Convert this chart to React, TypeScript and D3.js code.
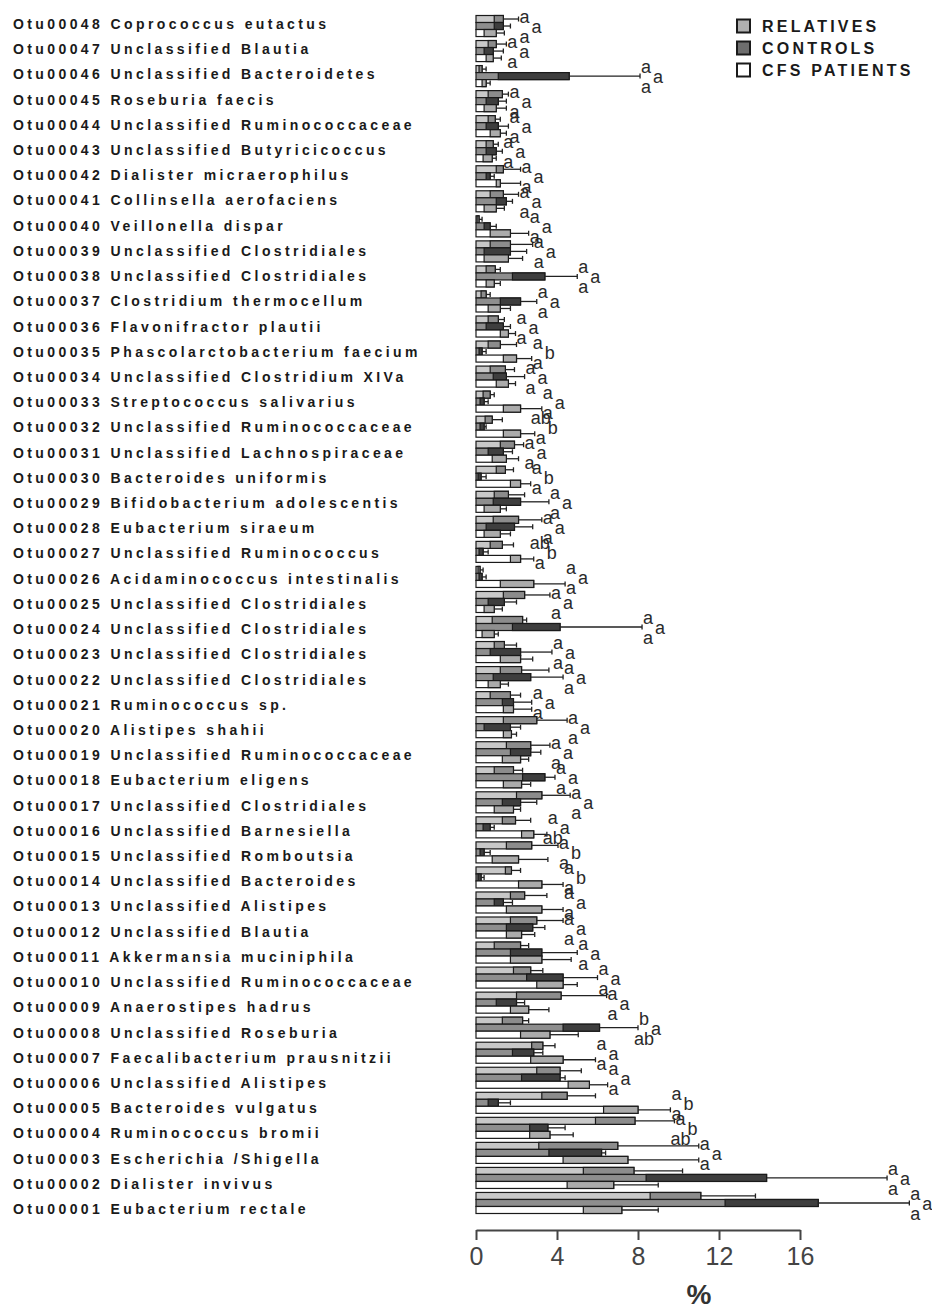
import React, { useEffect, useRef } from "react";
import * as d3 from "d3";

// OTU names, top to bottom as drawn
const otuNames = [
  "Otu00048 Coprococcus eutactus",
  "Otu00047 Unclassified Blautia",
  "Otu00046 Unclassified Bacteroidetes",
  "Otu00045 Roseburia faecis",
  "Otu00044 Unclassified Ruminococcaceae",
  "Otu00043 Unclassified Butyricicoccus",
  "Otu00042 Dialister micraerophilus",
  "Otu00041 Collinsella aerofaciens",
  "Otu00040 Veillonella dispar",
  "Otu00039 Unclassified Clostridiales",
  "Otu00038 Unclassified Clostridiales",
  "Otu00037 Clostridium thermocellum",
  "Otu00036 Flavonifractor plautii",
  "Otu00035 Phascolarctobacterium faecium",
  "Otu00034 Unclassified Clostridium XIVa",
  "Otu00033 Streptococcus salivarius",
  "Otu00032 Unclassified Ruminococcaceae",
  "Otu00031 Unclassified Lachnospiraceae",
  "Otu00030 Bacteroides uniformis",
  "Otu00029 Bifidobacterium adolescentis",
  "Otu00028 Eubacterium siraeum",
  "Otu00027 Unclassified Ruminococcus",
  "Otu00026 Acidaminococcus intestinalis",
  "Otu00025 Unclassified Clostridiales",
  "Otu00024 Unclassified Clostridiales",
  "Otu00023 Unclassified Clostridiales",
  "Otu00022 Unclassified Clostridiales",
  "Otu00021 Ruminococcus sp.",
  "Otu00020 Alistipes shahii",
  "Otu00019 Unclassified Ruminococcaceae",
  "Otu00018 Eubacterium eligens",
  "Otu00017 Unclassified Clostridiales",
  "Otu00016 Unclassified Barnesiella",
  "Otu00015 Unclassified Romboutsia",
  "Otu00014 Unclassified Bacteroides",
  "Otu00013 Unclassified Alistipes",
  "Otu00012 Unclassified Blautia",
  "Otu00011 Akkermansia muciniphila",
  "Otu00010 Unclassified Ruminococcaceae",
  "Otu00009 Anaerostipes hadrus",
  "Otu00008 Unclassified Roseburia",
  "Otu00007 Faecalibacterium prausnitzii",
  "Otu00006 Unclassified Alistipes",
  "Otu00005 Bacteroides vulgatus",
  "Otu00004 Ruminococcus bromii",
  "Otu00003 Escherichia /Shigella",
  "Otu00002 Dialister invivus",
  "Otu00001 Eubacterium rectale",
];

// [inner box start, bar end, whisker end] in %, same order as otuNames
const relatives = [
  [0.9, 1.35, 2.1], [0.6, 1.0, 1.5], [0.15, 0.3, 0.5], [0.6, 1.3, 1.6], [0.6, 0.95, 1.2],
  [0.5, 0.85, 1.1], [1.0, 1.35, 2.2], [0.7, 1.35, 2.1], [0.05, 0.15, 0.3], [0.7, 1.7, 2.8],
  [0.5, 0.95, 1.2], [0.25, 0.5, 0.7], [0.6, 1.1, 1.4], [0.6, 1.2, 2.0], [0.7, 1.45, 1.9],
  [0.35, 0.7, 0.9], [0.45, 0.8, 1.3], [1.2, 1.9, 2.35], [1.0, 1.45, 1.85], [0.9, 1.6, 2.4],
  [0.85, 2.1, 3.25], [0.7, 1.3, 1.85], [0.1, 0.2, 0.35], [1.35, 2.4, 3.65], [0.8, 2.3, 2.5],
  [0.9, 1.4, 2.0], [1.2, 2.25, 3.6], [0.7, 1.7, 2.2], [1.35, 3.0, 4.5], [1.5, 2.7, 3.65],
  [0.9, 1.85, 2.3], [2.0, 3.25, 4.65], [1.3, 1.95, 2.7], [1.5, 2.75, 4.05], [1.45, 1.75, 2.2],
  [1.7, 2.4, 3.5], [1.7, 3.0, 4.3], [0.9, 2.2, 2.6], [1.85, 2.7, 3.3], [2.0, 4.2, 6.45],
  [1.3, 2.3, 2.6], [2.75, 3.3, 3.9], [3.0, 4.15, 5.2], [3.25, 4.5, 5.9], [5.9, 7.85, 9.8],
  [3.1, 7.0, 11.0], [5.3, 7.8, 10.2], [8.6, 11.1, 13.8],
];

const controls = [
  [0.9, 1.35, 1.7], [0.4, 0.85, 1.35], [1.1, 4.6, 8.1], [0.5, 1.1, 1.5], [0.5, 1.1, 1.6],
  [0.5, 1.0, 1.3], [0.5, 0.7, 0.9], [1.0, 1.5, 1.8], [0.4, 0.7, 1.0], [0.4, 1.7, 2.5],
  [1.8, 3.4, 5.0], [1.2, 2.2, 3.0], [0.5, 1.35, 1.7], [0.15, 0.3, 0.5], [0.85, 1.5, 2.4],
  [0.2, 0.4, 0.6], [0.2, 0.4, 0.5], [0.6, 1.35, 1.8], [0.1, 0.25, 0.5], [0.85, 2.2, 3.6],
  [0.5, 1.9, 2.8], [0.15, 0.35, 0.6], [0.15, 0.3, 0.5], [0.6, 1.4, 2.0], [1.8, 4.15, 8.2],
  [0.7, 2.2, 3.75], [0.85, 2.7, 4.3], [1.3, 1.85, 2.75], [0.4, 1.7, 2.2], [1.7, 2.7, 3.2],
  [2.3, 3.4, 3.9], [1.3, 2.2, 3.0], [0.35, 0.7, 0.9], [0.2, 0.4, 0.7], [0.1, 0.25, 0.4],
  [0.9, 1.35, 1.8], [1.5, 2.8, 3.4], [1.7, 3.25, 5.0], [2.5, 4.3, 6.0], [1.0, 2.0, 2.4],
  [4.3, 6.1, 8.0], [1.8, 2.85, 3.3], [2.25, 4.15, 4.4], [0.6, 1.1, 1.7], [2.65, 3.55, 4.4],
  [3.6, 6.2, 6.4], [8.4, 14.35, 20.3], [12.3, 16.9, 21.4],
];

const cfsPatients = [
  [0.4, 1.0, 1.4], [0.5, 0.85, 1.25], [0.3, 0.5, 0.7], [0.4, 1.0, 1.5], [0.7, 1.2, 1.5],
  [0.35, 0.8, 1.0], [1.0, 1.2, 2.2], [0.4, 1.0, 1.4], [0.7, 1.7, 2.6], [0.4, 1.6, 2.3],
  [0.5, 0.9, 1.2], [0.6, 1.2, 1.7], [1.2, 1.6, 1.95], [1.35, 2.0, 2.75], [1.0, 1.6, 1.95],
  [1.35, 2.2, 3.25], [1.35, 2.2, 2.9], [0.8, 1.5, 2.1], [1.7, 2.2, 2.7], [0.4, 1.2, 1.5],
  [0.4, 1.2, 1.7], [1.7, 2.2, 2.85], [1.2, 2.85, 4.4], [0.4, 0.9, 1.3], [0.3, 0.9, 1.1],
  [1.2, 2.2, 2.8], [0.6, 1.2, 1.6], [1.35, 1.85, 2.75], [1.35, 1.75, 2.0], [1.3, 2.2, 2.6],
  [1.35, 2.25, 2.7], [0.9, 1.85, 2.2], [2.25, 2.85, 3.5], [0.8, 2.1, 3.55], [2.1, 3.25, 4.3],
  [1.5, 3.25, 4.3], [1.5, 2.25, 2.9], [1.7, 3.25, 4.7], [3.0, 4.3, 5.0], [1.7, 2.6, 3.6],
  [2.2, 3.65, 5.05], [2.7, 4.3, 5.9], [4.55, 5.6, 6.5], [6.3, 8.0, 9.6], [2.65, 3.65, 4.8],
  [4.3, 7.5, 11.0], [4.5, 6.8, 9.0], [5.3, 7.2, 9.0],
];

// significance letters: relatives, controls, CFS patients
const letters = [
  ["a", "a", "a"], ["a", "a", "a"], ["a", "a", "a"], ["a", "a", "a"], ["a", "a", "a"],
  ["a", "a", "a"], ["a", "a", "a"], ["a", "a", "a"], ["a", "a", "a"], ["a", "a", "a"],
  ["a", "a", "a"], ["a", "a", "a"], ["a", "a", "a"], ["a", "b", "a"], ["a", "a", "a"],
  ["a", "a", "a"], ["ab", "b", "a"], ["a", "a", "a"], ["a", "b", "a"], ["a", "a", "a"],
  ["a", "a", "a"], ["ab", "b", "a"], ["a", "a", "a"], ["a", "a", "a"], ["a", "a", "a"],
  ["a", "a", "a"], ["a", "a", "a"], ["a", "a", "a"], ["a", "a", "a"], ["a", "a", "a"],
  ["a", "a", "a"], ["a", "a", "a"], ["a", "a", "ab"], ["a", "b", "a"], ["a", "b", "a"],
  ["a", "a", "a"], ["a", "a", "a"], ["a", "a", "a"], ["a", "a", "a"], ["a", "a", "a"],
  ["b", "a", "ab"], ["a", "a", "a"], ["a", "a", "a"], ["a", "b", "a"], ["a", "b", "ab"],
  ["a", "a", "a"], ["a", "a", "a"], ["a", "a", "a"],
];

const xTicks = [0, 4, 8, 12, 16];
const legendLabels = ["RELATIVES", "CONTROLS", "CFS PATIENTS"];

const series = [
  { key: "rel", data: relatives, fill: "#c8c8c8", inner: "#8c8c8c", legend: "#b0b0b0" },
  { key: "ctl", data: controls, fill: "#8e8e8e", inner: "#3e3e3e", legend: "#6e6e6e" },
  { key: "cfs", data: cfsPatients, fill: "#ffffff", inner: "#ababab", legend: "#ffffff" },
];

const App = () => {
  const svgRef = useRef<SVGSVGElement>(null);

  useEffect(() => {
    const svg = d3.select(svgRef.current);
    svg.selectAll("*").remove();

    // scales
    const x = d3.scaleLinear().domain([0, 16]).range([476, 800]);
    const y = d3
      .scaleBand()
      .domain(otuNames)
      .range([13.5, 1215.5])
      .paddingInner(0.16)
      .paddingOuter(0.08);
    const ySub = d3
      .scaleBand()
      .domain(series.map((s) => s.key))
      .range([0, y.bandwidth()]);
    const yLabel = d3.scalePoint().domain(otuNames).range([24, 1209]);

    // row labels
    svg
      .append("g")
      .selectAll("text")
      .data(otuNames)
      .join("text")
      .attr("x", 13)
      .attr("y", (d) => yLabel(d))
      .attr("dominant-baseline", "central")
      .attr("font-size", 14)
      .attr("font-weight", "bold")
      .attr("letter-spacing", 3.4)
      .attr("fill", "#1a1a1a")
      .text((d) => d);

    // bars
    const groups = svg
      .append("g")
      .selectAll("g")
      .data(otuNames)
      .join("g")
      .attr("transform", (d) => `translate(0,${y(d)})`);

    groups.each(function (name, i) {
      const g = d3.select(this);
      series.forEach((s) => {
        const [lo, hi, err] = s.data[i];
        const top = ySub(s.key)!;
        const h = ySub.bandwidth();
        const mid = top + h / 2;
        g.append("rect")
          .attr("x", x(0))
          .attr("y", top)
          .attr("width", x(hi) - x(0))
          .attr("height", h)
          .attr("fill", s.fill)
          .attr("stroke", "#1a1a1a")
          .attr("stroke-width", 1.2);
        g.append("rect")
          .attr("x", x(lo))
          .attr("y", top)
          .attr("width", x(hi) - x(lo))
          .attr("height", h)
          .attr("fill", s.inner)
          .attr("stroke", "#1a1a1a")
          .attr("stroke-width", 1.2);
        if (err > hi) {
          g.append("line")
            .attr("x1", x(hi))
            .attr("x2", x(err))
            .attr("y1", mid)
            .attr("y2", mid)
            .attr("stroke", "#222")
            .attr("stroke-width", 1.3);
          g.append("line")
            .attr("x1", x(err))
            .attr("x2", x(err))
            .attr("y1", mid - 2.5)
            .attr("y2", mid + 2.5)
            .attr("stroke", "#222")
            .attr("stroke-width", 1.3);
        }
      });

      // letters, stacked right of the longest whisker
      const maxErr = d3.max(series, (s) => s.data[i][2])!;
      const c = y.bandwidth() / 2;
      const pos = [
        [x(maxErr) + 6, c - 9],
        [x(maxErr) + 18, c + 1],
        [x(maxErr) + 6, c + 11],
      ];
      letters[i].forEach((t, j) => {
        g.append("text")
          .attr("x", pos[j][0])
          .attr("y", pos[j][1])
          .attr("text-anchor", "middle")
          .attr("dominant-baseline", "central")
          .attr("font-size", 18)
          .attr("fill", "#2a2a2a")
          .text(t);
      });
    });

    // x axis
    const axis = svg
      .append("g")
      .attr("transform", "translate(0,1230)")
      .call(d3.axisBottom(x).tickValues(xTicks).tickSize(10).tickSizeOuter(0).tickPadding(7));
    axis.select(".domain").attr("stroke", "#444").attr("stroke-width", 2);
    axis.selectAll(".tick line").attr("stroke", "#444").attr("stroke-width", 2);
    axis
      .selectAll(".tick text")
      .attr("font-size", 25)
      .attr("font-family", "'Liberation Sans', Arial, sans-serif")
      .attr("fill", "#444");

    svg
      .append("text")
      .attr("x", 699)
      .attr("y", 1304)
      .attr("text-anchor", "middle")
      .attr("font-size", 28)
      .attr("font-weight", "bold")
      .attr("fill", "#333")
      .text("%");

    // legend
    const legend = svg
      .append("g")
      .selectAll("g")
      .data(series)
      .join("g")
      .attr("transform", (_, i) => `translate(737,${26 + i * 22})`);
    legend
      .append("rect")
      .attr("x", 0)
      .attr("y", -6.5)
      .attr("width", 13)
      .attr("height", 13)
      .attr("fill", (d) => d.legend)
      .attr("stroke", "#1a1a1a")
      .attr("stroke-width", 2);
    legend
      .append("text")
      .attr("x", 25)
      .attr("y", 0)
      .attr("dominant-baseline", "central")
      .attr("font-size", 16)
      .attr("font-weight", "bold")
      .attr("letter-spacing", 3.2)
      .attr("fill", "#1a1a1a")
      .text((_, i) => legendLabels[i]);
  }, []);

  return (
    <svg
      ref={svgRef}
      width={932}
      height={1309}
      style={{ position: "absolute", left: 0, top: 0, background: "#fff" }}
      fontFamily="'Liberation Sans', Arial, sans-serif"
    />
  );
};

export default App;
